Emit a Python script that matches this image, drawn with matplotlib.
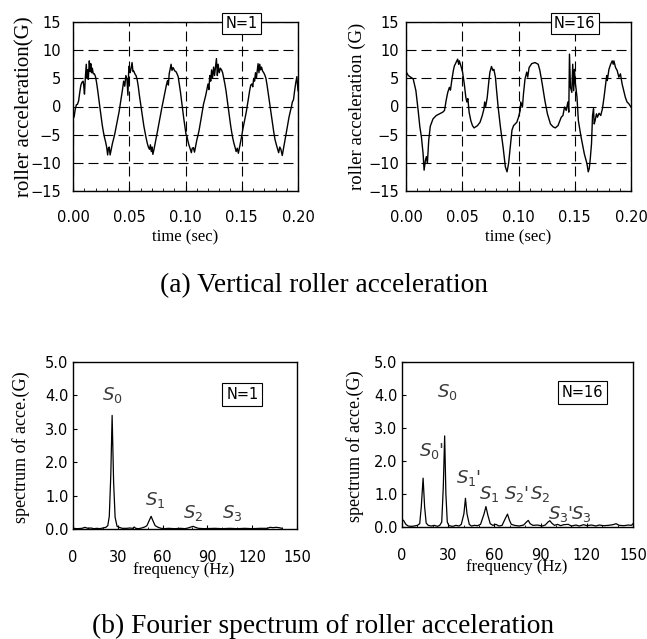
import matplotlib.pyplot as plt
from matplotlib.ticker import MultipleLocator, FormatStrFormatter

plt.rcParams['font.family'] = 'DejaVu Sans'
plt.rcParams['mathtext.fontset'] = 'dejavusans'

# ---- vertical roller acceleration, N=1 ----
t_n1 = [0.000, 0.001, 0.002, 0.003, 0.004, 0.005, 0.006, 0.007, 0.008, 0.009, 0.0095, 0.0102,
        0.011, 0.0118, 0.0124, 0.013, 0.0136, 0.0145, 0.0152, 0.0158, 0.0165, 0.0172, 0.018, 0.019,
        0.020, 0.021, 0.022, 0.023, 0.024, 0.025, 0.026, 0.027, 0.028, 0.029, 0.030, 0.0308,
        0.0315, 0.0322, 0.033, 0.034, 0.035, 0.036, 0.037, 0.038, 0.039, 0.040, 0.041, 0.042,
        0.043, 0.044, 0.045, 0.046, 0.047, 0.048, 0.0488, 0.0495, 0.050, 0.0506, 0.0513, 0.0525,
        0.0533, 0.054, 0.055, 0.056, 0.057, 0.058, 0.059, 0.060, 0.061, 0.062, 0.063, 0.064,
        0.065, 0.066, 0.067, 0.068, 0.0688, 0.0696, 0.0703, 0.071, 0.072, 0.073, 0.074, 0.075,
        0.076, 0.077, 0.078, 0.079, 0.080, 0.081, 0.082, 0.083, 0.084, 0.0848, 0.0855, 0.0863,
        0.0872, 0.088, 0.089, 0.0905, 0.0915, 0.0925, 0.0935, 0.0945, 0.0955, 0.0965, 0.0975,
        0.0985, 0.0995, 0.1005, 0.1012, 0.102, 0.103, 0.104, 0.1052, 0.106, 0.107, 0.108, 0.109,
        0.110, 0.111, 0.112, 0.113, 0.114, 0.115, 0.116, 0.117, 0.118, 0.119, 0.120, 0.1208,
        0.1216, 0.1224, 0.1232, 0.124, 0.125, 0.1258, 0.1275, 0.1283, 0.129, 0.130, 0.131, 0.132,
        0.133, 0.134, 0.135, 0.136, 0.137, 0.138, 0.139, 0.140, 0.141, 0.142, 0.143, 0.144,
        0.145, 0.146, 0.147, 0.148, 0.149, 0.150, 0.151, 0.152, 0.153, 0.154, 0.155, 0.156,
        0.157, 0.158, 0.159, 0.1598, 0.1606, 0.1614, 0.1622, 0.163, 0.1645, 0.1653, 0.166, 0.1668,
        0.1676, 0.1685, 0.1695, 0.1705, 0.1715, 0.1725, 0.1735, 0.1745, 0.1755, 0.1765, 0.1775,
        0.1785, 0.1795, 0.1805, 0.1815, 0.1828, 0.1838, 0.1848, 0.186, 0.187, 0.188, 0.189,
        0.190, 0.191, 0.192, 0.193, 0.194, 0.195, 0.196, 0.197, 0.198, 0.199, 0.200]
acc_n1 = [-2.2, -1.8, -0.5, 0.3, 0.4, 1.0, 2.5, 3.8, 4.3, 4.5, 3.8, 2.2,
          5.2, 7.5, 5.0, 6.5, 4.8, 8.1, 6.2, 7.6, 6.0, 6.8, 5.8, 5.8,
          5.3, 4.2, 2.8, 1.2, -0.3, -1.8, -3.3, -4.5, -5.5, -6.3, -7.3, -8.6,
          -7.4, -7.2, -8.6, -7.6, -6.6, -5.8, -5.0, -4.0, -3.0, -2.1, -0.9, 0.4,
          1.6, 3.0, 4.5, 3.6, 5.5, 4.8, 2.0, 6.3, 7.2, 6.0, 6.4, 7.8,
          6.2, 6.3, 5.8, 5.5, 4.8, 3.6, 2.0, 0.6, -0.8, -2.2, -3.5, -4.6,
          -5.6, -6.5, -7.2, -7.6, -6.8, -8.0, -7.2, -8.5, -7.6, -6.6, -5.5, -4.5,
          -3.4, -2.3, -1.2, -0.2, 0.8, 1.8, 2.8, 3.8, 4.6, 3.8, 5.8, 6.6,
          7.5, 6.4, 6.9, 6.3, 6.2, 5.8, 5.3, 4.0, 2.6, 1.0, -0.6,
          -2.2, -3.6, -5.0, -5.2, -6.0, -6.8, -7.4, -8.2, -7.4, -7.3, -8.1, -7.0,
          -6.0, -5.2, -4.3, -3.2, -2.0, -0.8, 0.4, 1.2, 2.0, 3.0, 4.0, 3.0,
          5.5, 4.5, 6.5, 5.0, 7.0, 5.5, 8.5, 5.5, 7.5, 6.0, 6.8, 6.5,
          6.0, 5.0, 4.0, 2.8, 1.3, -0.2, -1.8, -3.2, -4.5, -5.6, -6.5, -7.2,
          -8.0, -7.4, -8.3, -7.3, -6.3, -5.2, -4.0, -3.0, -2.0, -1.0, 0.2, 1.5,
          2.8, 3.8, 4.0, 3.5, 5.0, 4.5, 6.0, 5.0, 7.6, 6.0, 7.5, 6.5,
          7.0, 6.3, 6.0, 5.6, 5.0, 3.8, 2.4, 1.0, -0.4, -1.8, -3.2,
          -4.6, -5.8, -6.6, -7.3, -8.2, -7.2, -7.6, -8.7, -7.6, -6.6, -5.4,
          -4.2, -3.0, -1.9, -1.0, -0.2, 0.8, 1.2, 2.8, 4.2, 5.3, 2.8]

# ---- vertical roller acceleration, N=16 ----
t_n16 = [0.000, 0.0006, 0.002, 0.0035, 0.0064, 0.0088, 0.0108, 0.0123, 0.0137, 0.0152, 0.0161,
         0.0173, 0.0181, 0.019, 0.0202, 0.0216, 0.024, 0.0269, 0.0298, 0.0327, 0.0342, 0.0357,
         0.0371, 0.0386, 0.0395, 0.0409, 0.0421, 0.043, 0.0444, 0.0459, 0.0468, 0.0474, 0.0488,
         0.0503, 0.0518, 0.0532, 0.0541, 0.055, 0.0561, 0.0576, 0.0591, 0.0605, 0.0635, 0.0658,
         0.0678, 0.0693, 0.0699, 0.0708, 0.0722, 0.0737, 0.0746, 0.076, 0.0772, 0.0781, 0.0795,
         0.0804, 0.0819, 0.0839, 0.0863, 0.0883, 0.0898, 0.0912, 0.0927, 0.0942, 0.0956, 0.0985,
         0.100, 0.1015, 0.102, 0.1035, 0.1044, 0.1058, 0.1073, 0.1082, 0.1094, 0.1117, 0.1146,
         0.1175, 0.119, 0.1211, 0.1234, 0.1257, 0.1284, 0.1307, 0.1327, 0.1351, 0.138, 0.1395,
         0.1409, 0.1424, 0.1439, 0.1447, 0.1453, 0.1462, 0.1474, 0.1482, 0.1491, 0.1497, 0.1506,
         0.1512, 0.152, 0.1532, 0.1556, 0.1585, 0.1608, 0.162, 0.1629, 0.1637, 0.1649, 0.1658,
         0.1667, 0.1673, 0.1681, 0.1693, 0.1702, 0.1716, 0.1731, 0.1746, 0.176, 0.1775, 0.1784,
         0.1789, 0.1804, 0.1819, 0.1833, 0.1842, 0.1848, 0.1863, 0.1877, 0.1892, 0.1906, 0.1921,
         0.1936, 0.195, 0.1965, 0.198, 0.200]
acc_n16 = [6.0, 6.0, 5.5, 5.3, 4.9, 2.8, -0.7, -3.6, -5.4, -8.4, -11.3,
           -9.5, -8.9, -10.1, -6.0, -3.5, -2.2, -1.6, -1.3, -1.0, -0.7, 1.1,
           2.5, 3.4, 2.9, 4.9, 6.4, 7.2, 7.8, 8.4, 7.5, 8.1, 7.2,
           6.1, 4.0, 1.6, 0.8, 1.4, -1.0, -2.5, -3.4, -3.8, -3.4, -2.8,
           -1.6, -0.4, 0.8, 0.0, 1.6, 4.6, 6.1, 7.1, 6.4, 6.6, 5.2,
           3.1, -0.1, -3.6, -7.2, -10.7, -11.6, -10.1, -7.2, -4.2, -3.4, -2.8,
           -1.9, -0.7, 0.8, -0.1, 2.2, 4.9, 6.1, 5.2, 6.9, 7.6, 7.8,
           7.5, 6.4, 4.0, 1.1, -1.3, -3.1, -3.6, -3.8, -3.4, -1.9, -1.6,
           -0.1, -0.7, 0.8, -1.0, 9.3, 3.4, 2.5, 7.5, 2.8, 6.6, 4.0,
           3.1, 1.6, -2.5, -5.4, -8.4, -10.1, -11.6, -11.0, -9.5, -6.6, -1.6,
           -0.4, -3.1, -2.5, -1.3, -1.9, -1.2, -1.6, -0.4, 1.6, 4.0, 5.5,
           4.6, 6.6, 7.5, 8.1, 7.5, 8.1, 6.9, 6.4, 5.2, 5.8, 4.0,
           2.8, 1.6, 0.8, 0.5, -0.1]

# ---- Fourier spectrum, N=1 ----
f_n1 = [0, 3, 6, 8, 10, 12, 14, 16, 18, 20, 22, 23.3, 24.3, 25.3, 26.2, 27.2, 28.2, 29.5, 31,
        33, 36, 38, 40, 41, 42, 44, 46, 48, 49.5, 51, 52.3, 53.5, 55, 57, 59, 61, 64, 68, 72,
        75, 77, 79, 80.5, 82, 84, 88, 95, 100, 105, 110, 115, 120, 125, 130, 132, 134, 136,
        138, 140]
spec_n1 = [0.02, 0.01, 0.02, 0.05, 0.02, 0.03, 0.01, 0.02, 0.01, 0.03, 0.05, 0.10, 0.38, 1.6,
           3.4, 1.4, 0.35, 0.08, 0.05, 0.02, 0.02, 0.03, 0.02, 0.06, 0.02, 0.01, 0.03, 0.06,
           0.10, 0.25, 0.38, 0.25, 0.10, 0.05, 0.02, 0.01, 0.02, 0.01, 0.02, 0.01, 0.03, 0.06,
           0.08, 0.05, 0.02, 0.01, 0.02, 0.01, 0.02, 0.01, 0.02, 0.01, 0.02, 0.02, 0.05, 0.04,
           0.05, 0.04, 0.02]

# ---- Fourier spectrum, N=16 ----
f_n16 = [0, 1, 2.5, 4, 6, 8, 10, 11.5, 12.5, 13.7, 14.7, 15.7, 17, 19, 21, 23, 24.5, 25.8,
         26.8, 27.7, 28.5, 29.4, 30.5, 33, 35, 37, 38.5, 40.2, 41.2, 42.2, 43.7, 45, 47, 49,
         51, 53.3, 54.5, 55.8, 57.3, 59, 61, 63, 65, 67, 68.5, 69.8, 71, 73, 76, 79, 80.8, 82,
         83.2, 85, 88, 91, 93, 94.8, 96, 97.2, 99, 101, 103, 105, 108, 110, 113, 115, 118,
         120, 123, 126, 128, 131, 134, 137, 139, 141, 144, 147, 149, 150]
spec_n16 = [0.22, 0.20, 0.08, 0.03, 0.02, 0.03, 0.05, 0.10, 0.60, 1.48, 0.60, 0.12, 0.05, 0.03,
            0.05, 0.02, 0.05, 0.15, 1.20, 2.76, 1.00, 0.15, 0.04, 0.02, 0.05, 0.03, 0.08, 0.40,
            0.87, 0.40, 0.08, 0.03, 0.05, 0.04, 0.08, 0.40, 0.62, 0.35, 0.10, 0.05, 0.08, 0.03,
            0.05, 0.25, 0.39, 0.20, 0.08, 0.05, 0.03, 0.06, 0.15, 0.20, 0.10, 0.05, 0.06, 0.03,
            0.06, 0.15, 0.19, 0.12, 0.05, 0.08, 0.04, 0.07, 0.08, 0.03, 0.06, 0.03, 0.07, 0.04,
            0.06, 0.03, 0.06, 0.04, 0.05, 0.07, 0.10, 0.05, 0.04, 0.06, 0.05, 0.10]

peak_names_n1 = [r'$S_{\mathit{0}}$', r'$S_{\mathit{1}}$', r'$S_{\mathit{2}}$', r'$S_{\mathit{3}}$']
peak_names_n16 = [r'$S_{\mathit{0}}$', r"$S_{\mathit{0}}$'", r"$S_{\mathit{1}}$'", r'$S_{\mathit{1}}$',
                  r"$S_{\mathit{2}}$'", r'$S_{\mathit{2}}$', r"$S_{\mathit{3}}$'", r'$S_{\mathit{3}}$']

W, H = 647, 639
fig = plt.figure(figsize=(W / 100, H / 100), dpi=100)


def box(left, top, right, bottom):
    return [left / W, 1 - bottom / H, (right - left) / W, (bottom - top) / H]


serif = 'Liberation Serif'
tick_fs = 10.5
lab_color = '#3a3a3a'

ax1 = fig.add_axes(box(73, 22, 298, 191))
ax2 = fig.add_axes(box(406, 22, 631, 191))
ax3 = fig.add_axes(box(73, 362, 297, 529))
ax4 = fig.add_axes(box(402, 362, 633, 527))

# time histories
for ax, t, a, name, ylab, ylab_fs, ypad, ylab_x in [
        (ax1, t_n1, acc_n1, 'N=1', 'roller acceleration(G)', 15, 8.5, -0.216),
        (ax2, t_n16, acc_n16, 'N=16', 'roller acceleration (G)', 13.5, 5, -0.218)]:
    ax.plot(t, a, color='black', lw=1.0, zorder=3)
    ax.set_xlim(0, 0.2)
    ax.set_ylim(-15, 15)
    ax.xaxis.set_major_locator(MultipleLocator(0.05))
    ax.xaxis.set_minor_locator(MultipleLocator(0.01))
    ax.yaxis.set_major_locator(MultipleLocator(5))
    ax.xaxis.set_major_formatter(FormatStrFormatter('%.2f'))
    ax.grid(True, which='major', color='black', lw=0.8, linestyle=(0, (9, 4.5)))
    ax.tick_params(axis='x', which='major', direction='in', length=3, pad=13.5, labelsize=tick_fs)
    ax.tick_params(axis='x', which='minor', direction='in', length=2.2)
    ax.tick_params(axis='y', which='major', direction='in', length=0, pad=ypad, labelsize=tick_fs)
    for s in ax.spines.values():
        s.set_linewidth(1.0)
    ax.set_xlabel('time (sec)', fontfamily=serif, fontsize=12, va='center')
    ax.xaxis.set_label_coords(0.5, -0.272)
    ax.set_ylabel(ylab, fontfamily=serif, fontsize=ylab_fs, va='center')
    ax.yaxis.set_label_coords(ylab_x, 0.5)
    ax.text(0.75, 0.99, name, transform=ax.transAxes, ha='center', va='center',
            fontsize=tick_fs, zorder=5, clip_on=False,
            bbox=dict(boxstyle='square,pad=0.22', fc='white', ec='black', lw=0.8))

# spectra
for ax, f, s_, ylab_x, box_xy, name in [
        (ax3, f_n1, spec_n1, -0.234, (113.4, 4.03), 'N=1'),
        (ax4, f_n16, spec_n16, -0.202, (117.2, 4.08), 'N=16')]:
    ax.plot(f, s_, color='black', lw=0.9, zorder=3)
    ax.set_xlim(0, 150)
    ax.set_ylim(0, 5)
    ax.xaxis.set_major_locator(MultipleLocator(30))
    ax.xaxis.set_minor_locator(MultipleLocator(10))
    ax.yaxis.set_major_locator(MultipleLocator(1))
    ax.yaxis.set_major_formatter(FormatStrFormatter('%.1f'))
    ax.tick_params(axis='x', which='major', direction='in', length=3.2, pad=15, labelsize=tick_fs)
    ax.tick_params(axis='x', which='minor', direction='in', length=1.8)
    ax.tick_params(axis='y', which='major', direction='in', length=3, pad=3.2, labelsize=tick_fs)
    for sp in ax.spines.values():
        sp.set_linewidth(1.0)
    ax.set_xlabel('frequency (Hz)', fontfamily=serif, fontsize=12, va='center')
    ax.xaxis.set_label_coords(0.496, -0.245)
    ax.set_ylabel('spectrum of acce.(G)', fontfamily=serif, fontsize=13, va='center')
    ax.yaxis.set_label_coords(ylab_x, 0.49)
    ax.text(box_xy[0], box_xy[1], name, ha='center', va='center', fontsize=tick_fs, zorder=5,
            bbox=dict(boxstyle='square,pad=0.27', fc='white', ec='black', lw=0.8))

# peak labels
for name, xy in zip(peak_names_n1, [(26.2, 4.0), (55, 0.87), (80.5, 0.48), (106.7, 0.48)]):
    ax3.text(xy[0], xy[1], name, ha='center', va='center', fontsize=13, color=lab_color)
for name, xy in zip(peak_names_n16, [(29.3, 4.1), (19, 2.29), (43.5, 1.48), (56.7, 1.0),
                                     (74.5, 1.0), (89.5, 1.0), (103, 0.39), (116.5, 0.39)]):
    ax4.text(xy[0], xy[1], name, ha='center', va='center', fontsize=13, color=lab_color)

fig.text(0.5, 1 - 292 / H, '(a) Vertical roller acceleration', ha='center', va='baseline',
         fontfamily=serif, fontsize=19.7)
fig.text(0.5, 1 - 633 / H, '(b) Fourier spectrum of roller acceleration', ha='center',
         va='baseline', fontfamily=serif, fontsize=19.7)

fig.savefig('out.png', dpi=100)
